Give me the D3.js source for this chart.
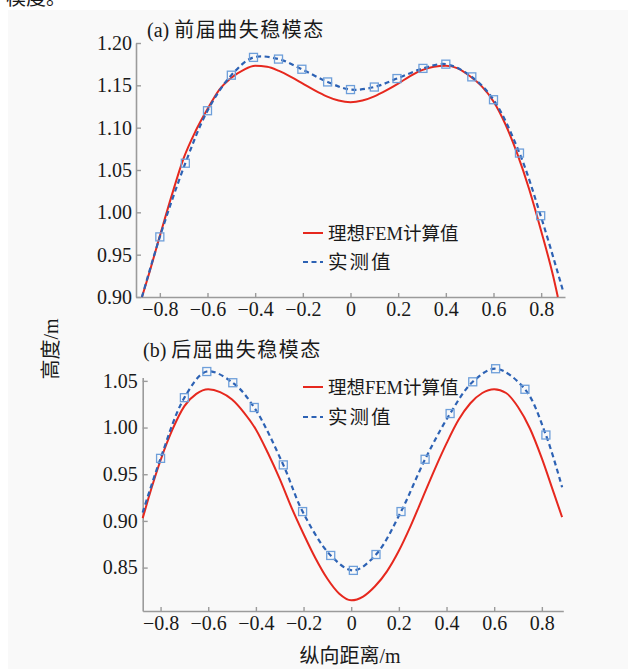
<!DOCTYPE html>
<html>
<head>
<meta charset="utf-8">
<script src="https://d3js.org/d3.v7.min.js"></script>
<style>
  body { margin: 0; background: #fff; }
</style>
</head>
<body>
<div id="chart"></div>
<script>
// ---- data ----
// (a) pre-buckling mode
var aFemX  = [-0.875,-0.85,-0.80,-0.75,-0.70,-0.65,-0.60,-0.55,-0.50,-0.45,-0.40,-0.35,-0.30,-0.25,-0.20,-0.15,-0.10,-0.05,0,0.05,0.10,0.15,0.20,0.25,0.30,0.35,0.40,0.45,0.50,0.55,0.60,0.65,0.70,0.75,0.80,0.85,0.87];
var aFemY  = [0.900,0.923,0.972,1.020,1.064,1.096,1.122,1.145,1.159,1.168,1.173,1.172,1.167,1.160,1.152,1.144,1.137,1.132,1.130,1.132,1.137,1.144,1.152,1.161,1.168,1.172,1.173,1.170,1.161,1.149,1.131,1.104,1.069,1.027,0.978,0.925,0.900];
var aMeasX = [-0.80,-0.693,-0.60,-0.50,-0.407,-0.302,-0.204,-0.096,0,0.10,0.195,0.304,0.40,0.509,0.60,0.709,0.798];
var aMeasY = [0.971,1.058,1.120,1.162,1.183,1.181,1.169,1.154,1.145,1.148,1.158,1.170,1.175,1.160,1.133,1.070,0.996];
var aDashEnds = [[-0.875,0.900],[0.893,0.906]];

// (b) post-buckling mode
var bFemX  = [-0.875,-0.85,-0.80,-0.75,-0.70,-0.65,-0.60,-0.55,-0.50,-0.45,-0.40,-0.35,-0.30,-0.25,-0.20,-0.15,-0.10,-0.05,0,0.05,0.10,0.15,0.20,0.25,0.30,0.35,0.40,0.45,0.50,0.55,0.60,0.65,0.70,0.75,0.80,0.85,0.885];
var bFemY  = [0.903,0.925,0.965,0.998,1.023,1.036,1.041,1.038,1.030,1.016,0.998,0.973,0.945,0.914,0.886,0.860,0.838,0.822,0.815,0.819,0.830,0.846,0.868,0.895,0.925,0.955,0.983,1.008,1.026,1.037,1.041,1.037,1.022,0.999,0.967,0.930,0.904];
var bMeasX = [-0.80,-0.70,-0.606,-0.497,-0.407,-0.285,-0.204,-0.086,0.009,0.104,0.209,0.31,0.415,0.51,0.606,0.729,0.817];
var bMeasY = [0.967,1.032,1.060,1.048,1.0215,0.960,0.910,0.863,0.847,0.864,0.910,0.966,1.015,1.049,1.063,1.041,0.992];
var bDashEnds = [[-0.875,0.909],[0.885,0.936]];

var xTicks  = [-0.8,-0.6,-0.4,-0.2,0,0.2,0.4,0.6,0.8];
var aYTicks = [0.90,0.95,1.00,1.05,1.10,1.15,1.20];
var bYTicks = [0.85,0.90,0.95,1.00,1.05];
var legendNames = ["理想FEM计算值", "实测值"];

var W = 630, H = 669;
var RED = "#e6281e", BLUE = "#2d62b4", MARK = "#6e9fda", AXIS = "#9b9b9b", INK = "#1a1a1a";
var LATIN = "Liberation Serif", CJK = "Noto Sans CJK SC";

var svg = d3.select("#chart").append("svg")
  .attr("width", W).attr("height", H);

// write a string into a text node, one tspan per script run, each with a single font
function label(sel, str, size, cjkSpacing) {
  sel.attr("font-size", size).attr("fill", INK);
  var runs = str.match(/[\u3000-\u9fff]+|[^\u3000-\u9fff]+/g);
  runs.forEach(function(r) {
    var isCjk = /[\u3000-\u9fff]/.test(r);
    var ts = sel.append("tspan").attr("font-family", isCjk ? CJK : LATIN).text(r);
    if (isCjk && cjkSpacing) ts.attr("letter-spacing", cjkSpacing);
  });
  return sel;
}

// page background (scan area)
svg.append("rect").attr("x", 8).attr("y", 10).attr("width", 620).attr("height", H - 10)
  .attr("fill", "#f9f9f9");
// line of text from the page above, cut by the crop
label(svg.append("text").attr("x", 6).attr("y", 5), "模度。", 20);

var fmtX = function(d) { return Math.abs(d) < 1e-9 ? "0" : d3.format(".1f")(d); };

function panel(o) {
  var x = d3.scaleLinear().domain(o.xDom).range(o.xRange);
  var y = d3.scaleLinear().domain(o.yDom).range(o.yRange);
  var g = svg.append("g");

  var xa = g.append("g").attr("transform", "translate(0," + o.yRange[0] + ")")
    .call(d3.axisBottom(x).tickValues(xTicks).tickFormat(fmtX)
      .tickSizeInner(-4).tickSizeOuter(0).tickPadding(5));
  var ya = g.append("g").attr("transform", "translate(" + o.xRange[0] + ",0)")
    .call(d3.axisLeft(y).tickValues(o.yTicks).tickFormat(d3.format(".2f"))
      .tickSizeInner(-5).tickSizeOuter(0).tickPadding(o.yPad));
  [xa, ya].forEach(function(a) {
    a.attr("font-family", LATIN).attr("font-size", 20);
    a.select(".domain").attr("stroke", AXIS).attr("stroke-width", 1.6);
    a.selectAll(".tick line").attr("stroke", AXIS).attr("stroke-width", 1.4);
    a.selectAll(".tick text").attr("fill", INK).attr("font-family", LATIN).attr("font-size", 20);
  });

  var fem = o.femX.map(function(d, i) { return [d, o.femY[i]]; });
  var meas = o.measX.map(function(d, i) { return [d, o.measY[i]]; });
  var dash = [o.ends[0]].concat(meas, [o.ends[1]]);

  g.append("path").datum(fem)
    .attr("d", d3.line().x(function(d) { return x(d[0]); }).y(function(d) { return y(d[1]); })
      .curve(d3.curveMonotoneX))
    .attr("fill", "none").attr("stroke", RED).attr("stroke-width", 2);

  g.append("path").datum(dash)
    .attr("d", d3.line().x(function(d) { return x(d[0]); }).y(function(d) { return y(d[1]); })
      .curve(d3.curveCatmullRom.alpha(0.5)))
    .attr("fill", "none").attr("stroke", BLUE).attr("stroke-width", 2.2)
    .attr("stroke-dasharray", "5,3.5");

  g.selectAll("rect.mk").data(meas).enter().append("rect").attr("class", "mk")
    .attr("x", function(d) { return x(d[0]) - 4; })
    .attr("y", function(d) { return y(d[1]) - 4; })
    .attr("width", 8).attr("height", 8)
    .attr("fill", "none").attr("stroke", MARK).attr("stroke-width", 1.3);

  // title
  label(g.append("text").attr("x", o.title[1]).attr("y", o.title[2]), o.title[0], 20, 1.5);

  // legend
  var lg = g.append("g");
  lg.append("line").attr("x1", 303).attr("x2", 323).attr("y1", o.leg[0]).attr("y2", o.leg[0])
    .attr("stroke", RED).attr("stroke-width", 2);
  lg.append("line").attr("x1", 303).attr("x2", 323).attr("y1", o.leg[1]).attr("y2", o.leg[1])
    .attr("stroke", BLUE).attr("stroke-width", 2.2).attr("stroke-dasharray", "5,3.5");
  label(lg.append("text").attr("x", 328).attr("y", o.leg[0]).attr("dy", "0.36em"), legendNames[0], 18.5);
  label(lg.append("text").attr("x", 328).attr("y", o.leg[1]).attr("dy", "0.36em"), legendNames[1], 19.5, 2);
}

panel({
  xDom: [-0.9, 0.9], xRange: [136, 565],
  yDom: [0.90, 1.20], yRange: [297, 43], yTicks: aYTicks, yPad: 4,
  femX: aFemX, femY: aFemY, measX: aMeasX, measY: aMeasY, ends: aDashEnds,
  title: ["(a) 前届曲失稳模态", 147, 37], leg: [233, 262]
});

panel({
  xDom: [-0.875, 0.89], xRange: [142.7, 563.3],
  yDom: [0.8035, 1.0535], yRange: [611, 377.6], yTicks: bYTicks, yPad: 5,
  femX: bFemX, femY: bFemY, measX: bMeasX, measY: bMeasY, ends: bDashEnds,
  title: ["(b) 后屈曲失稳模态", 143, 357], leg: [387, 417]
});

// shared axis titles
label(svg.append("text").attr("transform", "translate(51,349) rotate(-90)")
  .attr("text-anchor", "middle").attr("dy", "0.35em"), "高度/m", 20);
label(svg.append("text").attr("x", 350).attr("y", 663).attr("text-anchor", "middle"), "纵向距离/m", 20);
</script>
</body>
</html>
